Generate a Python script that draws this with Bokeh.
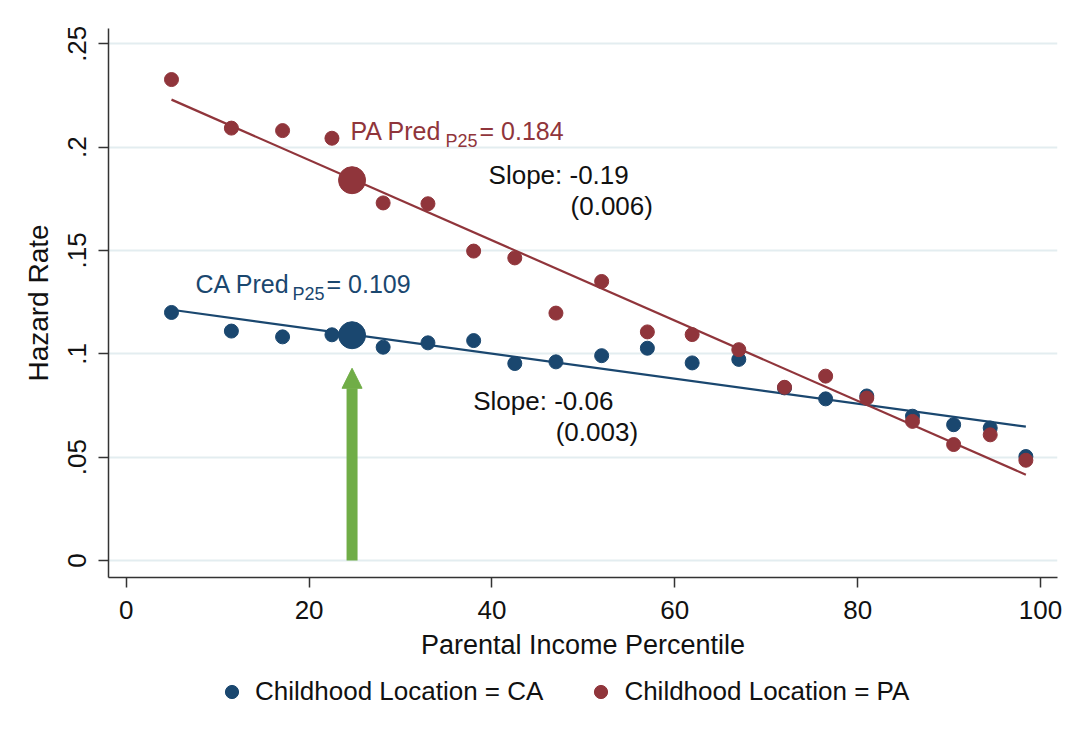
import numpy as np
from bokeh.plotting import figure
from bokeh.layouts import column
from bokeh.models import (Range1d, FixedTicker, Legend, LegendItem, Arrow,
                          NormalHead)
from bokeh.core.properties import value
from bokeh.embed import file_html
from bokeh.resources import INLINE

# ---------------- data ----------------
pct = [4.95, 11.5, 17.1, 22.5, 28.1, 33.0, 38.0, 42.5, 47.0, 52.0,
       57.0, 61.9, 67.0, 72.0, 76.5, 81.0, 86.0, 90.5, 94.5, 98.4]
ca_rate = [0.1200, 0.1110, 0.1082, 0.1092, 0.1032, 0.1053, 0.1064, 0.0953, 0.0961, 0.0991,
           0.1027, 0.0956, 0.0973, 0.0835, 0.0782, 0.0796, 0.0698, 0.0657, 0.0641, 0.0503]
pa_rate = [0.2327, 0.2092, 0.2080, 0.2043, 0.1730, 0.1726, 0.1497, 0.1464, 0.1197, 0.1350,
           0.1106, 0.1093, 0.1020, 0.0838, 0.0892, 0.0786, 0.0673, 0.0561, 0.0608, 0.0485]

# fitted lines (intercept, slope per percentile point)
ca_fit = (0.1243, -0.000605)
pa_fit = (0.2326, -0.001942)

p25_x = 24.7
ca_pred = 0.109
pa_pred = 0.184
arrow_tip = 0.093

ca_slope_txt = ["Slope: -0.06", "(0.003)"]
pa_slope_txt = ["Slope: -0.19", "(0.006)"]

x_ticks = [0, 20, 40, 60, 80, 100]
y_ticks = [0, 0.05, 0.10, 0.15, 0.20, 0.25]
y_tick_labels = ["0", ".05", ".1", ".15", ".2", ".25"]
legend_labels = ["Childhood Location = CA", "Childhood Location = PA"]

# ---------------- styles ----------------
BLUE = "#1a476f"
RED = "#90353b"
GREEN = "#70ad47"
TXT = "#111111"
FONT = "Liberation Sans"

p = figure(frame_width=949, frame_height=549,
           x_range=Range1d(-1.94, 101.86), y_range=Range1d(-0.00823, 0.2574),
           output_backend="svg", toolbar_location=None,
           min_border_left=108, min_border_right=19,
           min_border_top=28, min_border_bottom=95)
p.outline_line_color = None
p.background_fill_color = "white"
p.border_fill_color = "white"

p.xgrid.visible = False
p.ygrid.grid_line_color = "#e3edf0"
p.ygrid.grid_line_width = 2
p.ygrid.ticker = FixedTicker(ticks=y_ticks)

for ax in (p.xaxis[0], p.yaxis[0]):
    ax.axis_line_color = "#333333"
    ax.axis_line_width = 1.5
    ax.major_tick_line_color = "#333333"
    ax.major_tick_line_width = 1.5
    ax.major_tick_out = 10
    ax.major_tick_in = 0
    ax.minor_tick_line_color = None
    ax.major_label_text_font = FONT
    ax.major_label_text_font_size = "26px"
    ax.major_label_text_color = TXT
    ax.axis_label_text_font = FONT
    ax.axis_label_text_font_style = "normal"
    ax.axis_label_text_color = TXT

p.xaxis.ticker = FixedTicker(ticks=x_ticks)
p.xaxis.major_label_standoff = 13
p.xaxis.axis_label = "Parental Income Percentile"
p.xaxis.axis_label_text_font_size = "27px"
p.xaxis.axis_label_standoff = 8

p.yaxis.ticker = FixedTicker(ticks=y_ticks)
p.yaxis.major_label_overrides = {t: l for t, l in zip(y_ticks, y_tick_labels)}
p.yaxis.major_label_orientation = "vertical"
p.yaxis.major_label_standoff = 12
p.yaxis.axis_label = "Hazard Rate"
p.yaxis.axis_label_text_font_size = "28px"
p.yaxis.axis_label_standoff = 12

# fitted lines
x_lo, x_hi = min(pct), max(pct)
fx = np.array([x_lo, x_hi])
p.line(fx, ca_fit[0] + ca_fit[1] * fx, line_color=BLUE, line_width=2.2)
p.line(fx, pa_fit[0] + pa_fit[1] * fx, line_color=RED, line_width=2.2)

# arrow
p.add_layout(Arrow(end=NormalHead(size=20, fill_color=GREEN, line_color=GREEN, line_width=1),
                   x_start=p25_x, y_start=0, x_end=p25_x, y_end=arrow_tip,
                   line_color=GREEN, line_width=11))

# points
p.scatter(pct, ca_rate, size=14, fill_color=BLUE, line_color=BLUE)
p.scatter(pct, pa_rate, size=14, fill_color=RED, line_color=RED)
p.scatter([p25_x], [ca_pred], size=27, fill_color=BLUE, line_color=BLUE)
p.scatter([p25_x], [pa_pred], size=27, fill_color=RED, line_color=RED)

# prediction labels with subscripts
def pred_label(name, val, x, y, color, sub_off, rest_off):
    common = dict(text_font=value(FONT), text_color=color, text_baseline="middle",
                  text_align="left")
    p.text(x=[x], y=[y], text=[f"{name} Pred"], text_font_size="25px", **common)
    p.text(x=[x], y=[y], text=["P25"], text_font_size="18px", x_offset=sub_off,
           y_offset=10, **common)
    p.text(x=[x], y=[y], text=[f" = {val:.3f}"], text_font_size="25px",
           x_offset=rest_off, **common)

pred_label("PA", pa_pred, 24.53, 0.2078, RED, 95, 129)
pred_label("CA", ca_pred, 7.58, 0.1339, BLUE, 97, 131)

# slope labels
slope_common = dict(text_font=value(FONT), text_color=TXT, text_baseline="middle",
                    text_align="left", text_font_size="26px")
p.text(x=[39.63, 48.6], y=[0.1865, 0.1713], text=pa_slope_txt, **slope_common)
p.text(x=[37.95, 46.97], y=[0.0774, 0.0623], text=ca_slope_txt, **slope_common)

# ---------------- legend strip (separate figure below) ----------------
lg = figure(width=1076, height=60, output_backend="svg", toolbar_location=None,
            x_range=Range1d(0, 1), y_range=Range1d(0, 1),
            min_border=0, outline_line_color=None)
lg.axis.visible = False
lg.grid.visible = False
lg.background_fill_color = "white"
lg.border_fill_color = "white"
# key renderers: the same series, lying outside this strip's ranges (only their legend glyphs show)
ca_key = lg.scatter(pct, ca_rate, size=14, fill_color=BLUE, line_color=BLUE)
pa_key = lg.scatter(pct, pa_rate, size=14, fill_color=RED, line_color=RED)
legend = Legend(items=[LegendItem(label=legend_labels[0], renderers=[ca_key]),
                       LegendItem(label=legend_labels[1], renderers=[pa_key])],
                orientation="horizontal", location=(107, 24),
                glyph_width=33, glyph_height=33, label_standoff=7, spacing=41,
                padding=0, margin=0, border_line_color=None,
                background_fill_alpha=0,
                label_text_font=FONT, label_text_font_size="26px",
                label_text_color=TXT)
lg.add_layout(legend, "center")

layout = column(p, lg, spacing=0)
open("out.html", "w").write(file_html(layout, INLINE))
